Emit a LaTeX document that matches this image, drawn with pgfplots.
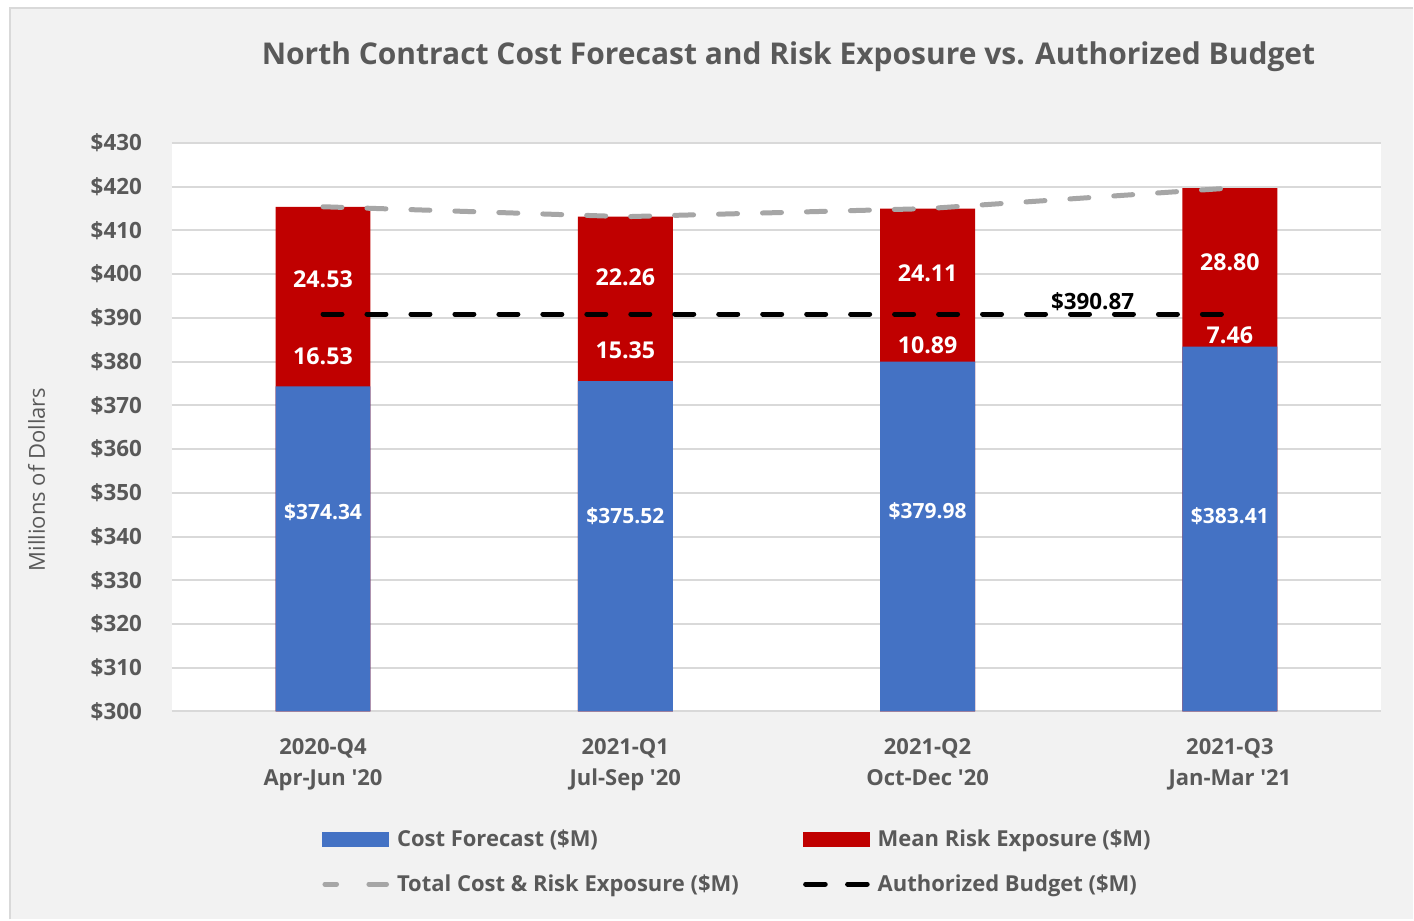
\documentclass[border=0pt]{standalone}
\usepackage{fontspec}
\setmainfont{Open Sans}
\usepackage{pgfplots}
\pgfplotsset{compat=1.18}
\usetikzlibrary{backgrounds}

\definecolor{costblue}{HTML}{4472C4}
\definecolor{riskred}{HTML}{C00000}
\definecolor{totgray}{HTML}{A6A6A6}
\definecolor{bggray}{HTML}{F2F2F2}
\definecolor{gridgray}{HTML}{D9D9D9}
\definecolor{txtgray}{HTML}{595959}

\begin{document}
\begin{tikzpicture}
\begin{axis}[
  name=main,
  at={(0,0)}, anchor=south west,
  scale only axis,
  width=605pt, height=284.5pt,
  xmin=-0.5, xmax=3.5,
  ymin=300, ymax=430,
  ytick={300,310,...,430},
  xtick={0,1,2,3},
  xticklabels={{2020-Q4\\Apr-Jun \textquotesingle20},{2021-Q1\\Jul-Sep \textquotesingle20},{2021-Q2\\Oct-Dec \textquotesingle20},{2021-Q3\\Jan-Mar \textquotesingle21}},
  xticklabel style={align=center, font=\fontsize{11}{15.5}\selectfont\bfseries, text=txtgray, yshift=-10pt},
  yticklabel={\$\pgfmathprintnumber{\tick}},
  /pgf/number format/assume math mode=true,
  yticklabel style={font=\fontsize{11.2}{13}\selectfont\bfseries, text=txtgray, anchor=east, xshift=-11.5pt},
  major tick length=0pt,
  axis line style={draw=none},
  axis background/.style={fill=white},
  ymajorgrids=true,
  grid style={gridgray, line width=1pt},
  ylabel={Millions of Dollars},
  ylabel style={at={(axis description cs:-0.112,0.408)}, anchor=center, font=\fontsize{11}{13}\selectfont, text=txtgray},
  title={North Contract Cost Forecast and Risk Exposure vs. Authorized Budget},
  title style={at={(axis description cs:0.51,1.13)}, anchor=center, font=\fontsize{15}{18}\selectfont\bfseries, text=txtgray},
  legend style={at={(axis description cs:0.119,-0.193)}, anchor=north west, draw=none, fill=none,
    font=\fontsize{11}{13}\selectfont\bfseries, text=txtgray, row sep=8.5pt,
    /tikz/every odd column/.append style={column sep=2pt},
    /tikz/every even column/.append style={column sep=30pt}},
  legend columns=2,
  legend cell align=left,
]
% legend entries
\addlegendimage{legend image code/.code={\fill[costblue] (0pt,-3.5pt) rectangle (33pt,3.5pt);}}
\addlegendentry{Cost Forecast (\$M)}
\addlegendimage{legend image code/.code={\fill[riskred] (0pt,-3.5pt) rectangle (33pt,3.5pt);}}
\addlegendentry{Mean Risk Exposure (\$M)}
\addlegendimage{legend image code/.code={\draw[totgray, line width=2.5pt, line cap=round] (1.2pt,0) -- (7pt,0) (23.2pt,0) -- (32pt,0);}}
\addlegendentry{Total Cost \& Risk Exposure (\$M)}
\addlegendimage{legend image code/.code={\draw[black, line width=2.5pt, line cap=round] (1.2pt,0) -- (11pt,0) (22.2pt,0) -- (32pt,0);}}
\addlegendentry{Authorized Budget (\$M)}

% total (cost + mean risk) drawn as red bar, cost drawn over it in blue
\addplot[ybar, bar width=47.5pt, bar shift=0pt, fill=riskred, draw=none, forget plot]
  coordinates {(0,415.40) (1,413.13) (2,414.98) (3,419.67)};
\addplot[ybar, bar width=47.5pt, bar shift=0pt, fill=costblue, draw=none, forget plot]
  coordinates {(0,374.34) (1,375.52) (2,379.98) (3,383.41)};

% lines
\addplot[totgray, line width=2.5pt, line cap=round, dash pattern=on 9.5pt off 12.5pt, mark=none, forget plot]
  coordinates {(0,415.40) (1,413.13) (2,414.98) (3,419.67)};
\addplot[black, line width=2.5pt, line cap=round, dash pattern=on 9.5pt off 12.5pt, mark=none, forget plot]
  coordinates {(0,390.87) (1,390.87) (2,390.87) (3,390.87)};

% data labels
\addplot[draw=none, mark=none, forget plot, nodes near coords, point meta=explicit symbolic,
  every node near coord/.style={anchor=center, text=white, font=\fontsize{10.5}{12}\selectfont\bfseries}]
  coordinates {(0,345.5) [\$374.34] (1,344.6) [\$375.52] (2,345.7) [\$379.98] (3,344.6) [\$383.41]};
\addplot[draw=none, mark=none, forget plot, nodes near coords, point meta=explicit symbolic,
  every node near coord/.style={anchor=center, text=white, font=\fontsize{11.6}{13}\selectfont\bfseries}]
  coordinates {(0,381.3) [16.53] (1,382.5) [15.35] (2,383.8) [10.89] (3,386.1) [7.46]
               (0,398.9) [24.53] (1,399.2) [22.26] (2,400.3) [24.11] (3,402.8) [28.80]};
\addplot[draw=none, mark=none, forget plot, nodes near coords, point meta=explicit symbolic,
  every node near coord/.style={anchor=center, text=black, font=\fontsize{11.2}{13}\selectfont\bfseries}]
  coordinates {(2.546,393.7) [\$390.87]};
\end{axis}
\begin{pgfonlayer}{background}
  \fill[white] (-86pt,-104pt) rectangle (621pt,356pt);
  \fill[bggray] (-81pt,-104pt) rectangle (621pt,352pt);
  \draw[gridgray, line width=1pt] (-81pt,-104pt) -- (-81pt,352pt) -- (621pt,352pt);
\end{pgfonlayer}
\useasboundingbox (-86pt,-104pt) rectangle (621pt,356pt);
\end{tikzpicture}
\end{document}
